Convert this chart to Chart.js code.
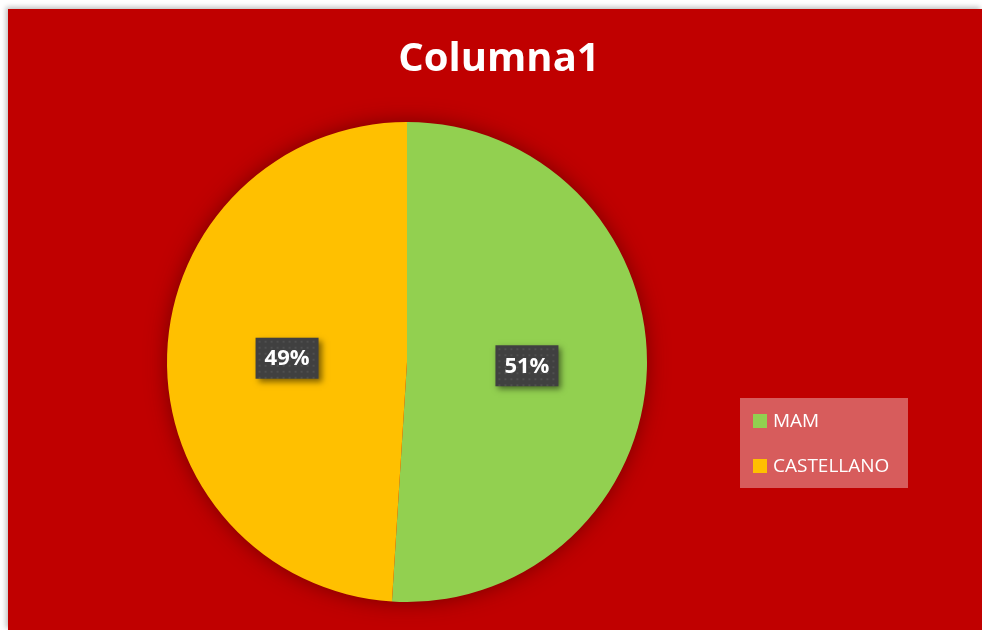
<!DOCTYPE html>
<html>
<head>
<meta charset="utf-8">
<script src="https://cdn.jsdelivr.net/npm/chart.js@4"></script>
<style>
    html, body { margin: 0; padding: 0; background: #ffffff; }
    #marco {
        position: absolute; left: 8px; top: 9px; width: 974px; height: 621px;
        background: #C00000; box-shadow: -2px -2px 5px rgba(0,0,0,0.25);
    }
    canvas { display: block; }
</style>
</head>
<body>
<div id="marco"><canvas id="grafico" width="974" height="621"></canvas></div>
<script>
// datos
const categorias = ['MAM', 'CASTELLANO'];
const valores = [51, 49];
const colores = ['#92D050', '#FFC000'];
const titulo = 'Columna1';

const fuente = '"Open Sans", "Noto Sans", sans-serif';

// sombra alrededor del pastel (un circulo detras, para no marcar la division)
const sombraPastel = {
    id: 'sombraPastel',
    beforeDatasetsDraw(chart) {
        const arco = chart.getDatasetMeta(0).data[0];
        if (!arco) return;
        const ctx = chart.ctx;
        ctx.save();
        ctx.shadowColor = 'rgba(60,0,0,0.6)';
        ctx.shadowBlur = 22;
        ctx.fillStyle = '#C00000';
        ctx.beginPath();
        ctx.arc(arco.x, arco.y, arco.outerRadius - 1, 0, Math.PI * 2);
        ctx.fill();
        ctx.restore();
    }
};

// titulo, etiquetas de porcentaje y leyenda
const extras = {
    id: 'extras',
    afterDraw(chart) {
        const ctx = chart.ctx;
        ctx.save();

        // titulo
        ctx.fillStyle = '#ffffff';
        ctx.font = 'bold 40px ' + fuente;
        ctx.textAlign = 'center';
        ctx.textBaseline = 'middle';
        ctx.fillText(titulo, 491, 51);

        // etiquetas
        const total = valores.reduce((a, b) => a + b, 0);
        const meta = chart.getDatasetMeta(0);
        meta.data.forEach((arco, i) => {
            const p = arco.tooltipPosition();
            const w = 63, h = 41;
            const x = p.x - w / 2, y = p.y - h / 2;
            ctx.save();
            ctx.shadowColor = 'rgba(0,0,0,0.5)';
            ctx.shadowBlur = 6;
            ctx.shadowOffsetX = 3;
            ctx.shadowOffsetY = 3;
            ctx.fillStyle = '#404040';
            ctx.fillRect(x, y, w, h);
            ctx.restore();
            // trama de puntos
            ctx.fillStyle = 'rgba(255,255,255,0.08)';
            for (let yy = y + 3; yy < y + h - 1; yy += 6) {
                for (let xx = x + 3; xx < x + w - 1; xx += 6) {
                    ctx.fillRect(xx, yy, 2, 2);
                }
            }
            ctx.fillStyle = '#ffffff';
            ctx.font = 'bold 22px ' + fuente;
            ctx.fillText(Math.round(valores[i] / total * 100) + '%', p.x, p.y + 1);
        });

        // leyenda
        const lx = 732, ly = 389, lw = 168, lh = 90;
        ctx.fillStyle = 'rgba(255,255,255,0.36)';
        ctx.fillRect(lx, ly, lw, lh);
        ctx.textAlign = 'left';
        ctx.font = '19px ' + fuente;
        categorias.forEach((c, i) => {
            const cy = ly + 23 + i * 45;
            ctx.fillStyle = colores[i];
            ctx.fillRect(lx + 13, cy - 7, 14, 14);
            ctx.fillStyle = '#ffffff';
            ctx.fillText(c, lx + 33, cy + 1);
        });

        ctx.restore();
    }
};

new Chart(document.getElementById('grafico'), {
    type: 'pie',
    data: {
        labels: categorias,
        datasets: [{
            data: valores,
            backgroundColor: colores,
            borderWidth: 0
        }]
    },
    options: {
        responsive: false,
        animation: false,
        layout: { padding: { top: 113, bottom: 28, left: 159, right: 335 } },
        plugins: {
            legend: { display: false },
            tooltip: { enabled: false },
            title: { display: false }
        }
    },
    plugins: [sombraPastel, extras]
});
</script>
</body>
</html>
